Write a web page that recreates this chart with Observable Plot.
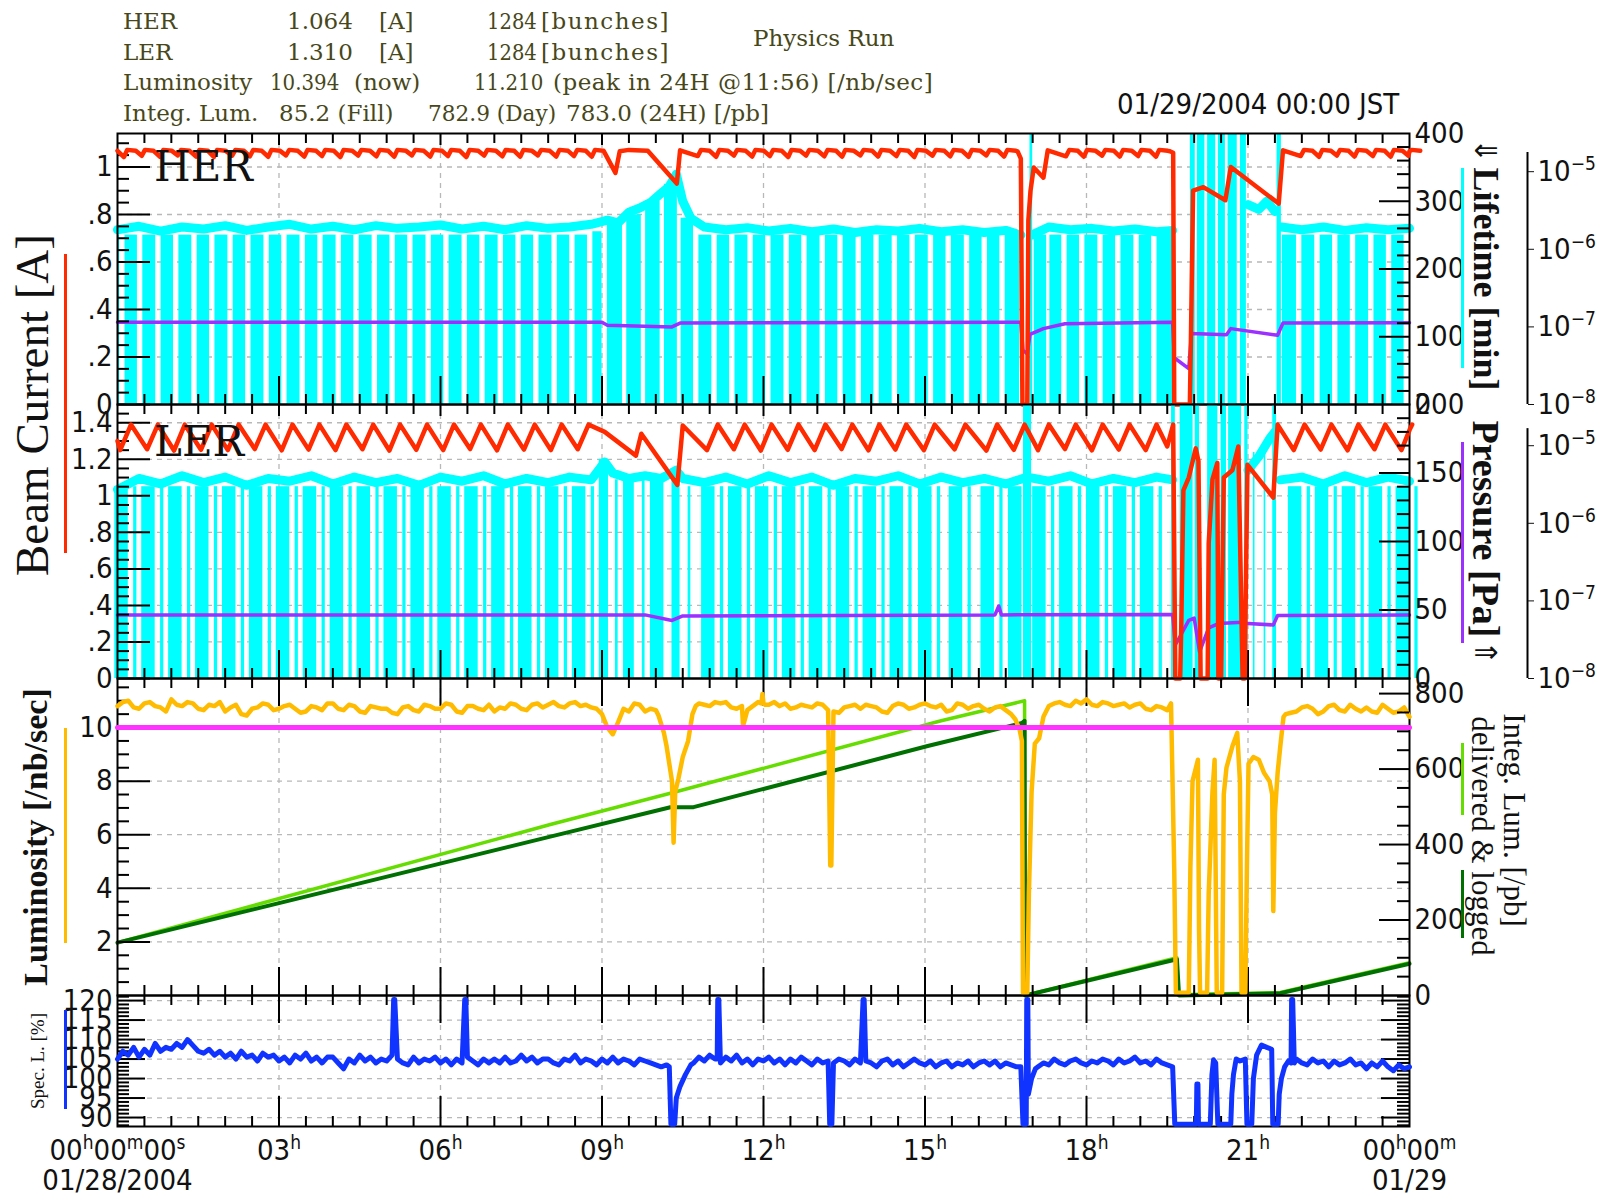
<!DOCTYPE html>
<html><head><meta charset="utf-8">
<script src="https://cdn.jsdelivr.net/npm/d3@7"></script>
<script src="https://cdn.jsdelivr.net/npm/@observablehq/plot@0.6"></script>
<style>
body{margin:0;background:#fff;}
#chart{position:relative;width:1607px;height:1196px;overflow:hidden;background:#fff;}
.tx{position:absolute;white-space:pre;line-height:1;transform-origin:0 50%;}
.hd{font-family:"DejaVu Serif",serif;font-size:23px;color:#47471a;}
.rot{position:absolute;white-space:pre;line-height:1;transform:translate(-50%,-50%) rotate(var(--r));}
.bar{position:absolute;width:3px;}
</style></head><body><div id="chart"></div>
<script>
// ---------------- DATA (hours since 01/28/2004 00:00) ----------------
// HER current sawtooth: injection times with the current just before injection [h, A]
const herTeethA=[[0.12,1.042],[0.45,1.047],[0.79,1.043],[1.12,1.049],[1.46,1.044],[1.79,1.042],[2.13,1.048],[2.46,1.045],[2.8,1.043],[3.13,1.049],[3.47,1.044],[3.8,1.046],[4.14,1.042],[4.47,1.048],[4.81,1.045],[5.14,1.043],[5.47,1.049],[5.81,1.044],[6.14,1.046],[6.48,1.042],[6.81,1.048],[7.15,1.045],[7.48,1.043],[7.81,1.049],[8.15,1.044],[8.48,1.046],[8.81,1.043]];
const herTeethB=[[10.78,1.046],[11.12,1.043],[11.45,1.048],[11.79,1.044],[12.12,1.046],[12.46,1.042],[12.79,1.048],[13.13,1.045],[13.46,1.043],[13.8,1.049],[14.13,1.044],[14.47,1.046],[14.8,1.042],[15.14,1.048],[15.47,1.045],[15.81,1.043],[16.14,1.049],[16.47,1.044]];
const herTeethC=[[17.62,1.045],[17.95,1.043],[18.29,1.048],[18.62,1.044],[18.96,1.046],[19.29,1.043]];
const herTeethD=[[21.98,1.046],[22.32,1.043],[22.65,1.048],[22.98,1.044],[23.32,1.046],[23.65,1.043],[23.98,1.047]];
const herTop=1.072, herHold=1.068;
const herSpecial=[[0,1.068],[9.02,1.068],[9.25,0.975],[9.33,1.066],[9.5,1.072],[9.85,1.068],[10.39,0.93],[10.45,1.07],
 [16.72,1.066],[16.78,1.035],[16.81,0],[16.9,0],[16.92,0.775],[16.96,0.9],[17.02,0.998],[17.2,0.955],[17.28,1.07],
 [19.55,1.066],[19.61,1.06],[19.63,0],[19.92,0],[19.94,0.28],[19.98,0.9],[20.17,0.915],[20.58,0.86],[20.68,1.0],[21.57,0.846],[21.65,1.07],[24,1.066]];
// LER current: trough times before injection [h, A]
const lerTeethA=[[0.05,1.25],[0.55,1.255],[1.05,1.248],[1.55,1.252],[2.05,1.25],[2.55,1.256],[3.05,1.249],[3.55,1.253],[4.05,1.25],[4.55,1.255],[5.05,1.248],[5.55,1.252],[6.05,1.25],[6.55,1.256],[7.05,1.249],[7.55,1.253],[8.05,1.25],[8.55,1.255]];
const lerTeethB=[[10.95,1.25],[11.45,1.255],[11.95,1.248],[12.45,1.252],[12.95,1.25],[13.45,1.256],[13.95,1.249],[14.45,1.253],[14.98,1.25],[15.55,1.255],[16.14,1.248],[16.65,1.252],[17.1,1.25],[17.6,1.256],[18.1,1.249],[18.6,1.253],[19.1,1.25]];
const lerTeethC=[[21.85,1.25],[22.35,1.253],[22.85,1.249],[23.35,1.255],[23.85,1.25]];
const lerPeak=1.39;
const lerSpecial=[[0,1.3],[9.05,1.35],[9.63,1.22],[9.73,1.34],[10.4,1.06],[10.5,1.385],
 [19.5,1.27],[19.61,1.39],[19.65,0],[19.74,0],[19.76,0.28],[19.8,1.03],[19.9,1.1],[20.03,1.26],[20.08,1.19],[20.12,0],[20.25,0],[20.27,0.74],[20.34,1.09],[20.43,1.18],[20.45,0],[20.5,0],[20.55,1.1],[20.71,1.14],[20.82,1.27],[20.9,0],[20.94,0],[20.96,0.5],[20.99,1.17],[21.47,0.99],[21.55,1.39],[24,1.36]];
// Lifetime [min] – upper envelope (NaN = gap) and extra columns [h0,h1,min]
const herLife=[[0,258],[0.4,263],[0.8,256],[1.2,262],[1.6,259],[2.0,264],[2.4,257],[2.8,262],[3.2,266],[3.6,259],[4.0,263],[4.4,258],[4.8,264],[5.2,260],[5.6,262],[6.0,265],[6.4,259],[6.8,263],[7.2,258],[7.6,264],[8.0,260],[8.4,262],[8.8,266],[9.1,272],[9.3,268],[9.5,284],[9.7,290],[9.9,298],[10.1,312],[10.25,322],[10.38,340],[10.5,300],[10.65,275],[10.9,262],[11.3,258],[11.7,261],[12.1,256],[12.5,260],[12.9,255],[13.3,259],[13.7,254],[14.1,258],[14.5,256],[14.9,260],[15.3,255],[15.7,258],[16.1,254],[16.5,257],[16.78,250],[16.79,NaN],[16.98,250],[17.3,262],[17.7,258],[18.1,260],[18.5,256],[18.9,259],[19.3,255],[19.6,257],[19.61,NaN],[21.0,295],[21.2,288],[21.35,300],[21.5,285],[21.51,NaN],[21.62,262],[22.0,258],[22.4,262],[22.8,257],[23.2,261],[23.6,258],[24,260]];
const herColsSpecial=[[0,0.04,250],[8.83,9.0,255],[9.1,9.38,265],[9.46,9.73,280],[9.81,10.08,300],[10.16,10.4,325],[10.47,10.7,275],
 [16.49,16.76,250],[16.95,17.0,400],[17.03,17.26,250],[17.32,17.54,250],[19.31,19.6,250],
 [19.93,20.02,400],[20.06,20.2,400],[20.25,20.4,400],[20.45,20.58,400],[20.63,20.8,400],[20.86,20.97,400],[21.54,21.62,400],[21.64,21.9,250]];
const lerLife=[[0,138],[0.4,146],[0.8,142],[1.2,148],[1.6,143],[2.0,147],[2.4,141],[2.8,146],[3.2,144],[3.6,148],[4.0,142],[4.4,147],[4.8,143],[5.2,146],[5.6,141],[6.0,147],[6.4,144],[6.8,148],[7.2,142],[7.6,146],[8.0,143],[8.4,147],[8.8,145],[9.05,158],[9.2,150],[9.5,146],[9.8,148],[10.1,146],[10.38,152],[10.5,146],[10.9,143],[11.3,147],[11.7,142],[12.1,148],[12.5,143],[12.9,147],[13.3,141],[13.7,146],[14.1,144],[14.5,148],[14.9,142],[15.3,147],[15.7,143],[16.1,146],[16.5,142],[16.9,147],[17.3,144],[17.7,148],[18.1,142],[18.5,146],[18.9,143],[19.3,147],[19.6,145],[19.61,NaN],[21.0,152],[21.2,162],[21.4,175],[21.5,180],[21.51,NaN],[21.6,145],[22.0,147],[22.4,142],[22.8,148],[23.2,143],[23.6,147],[24,144]];
const lerColsSpecial=[[8.95,9.12,160],[9.25,9.3,145],[9.4,9.6,145],[9.75,9.8,145],[9.9,10.15,145],[10.3,10.45,150],[10.6,10.65,140],
 [16.83,16.98,200],[19.58,19.65,200],[19.74,19.98,200],[20.02,20.1,200],[20.25,20.44,200],[20.5,20.6,200],[20.64,20.88,200],[20.94,21.0,200],[21.1,21.13,165],[21.3,21.33,172],[21.46,21.53,200]];
// Pressure [Pa]
const herPress=[[0,1.15e-7],[9.0,1.15e-7],[9.1,1.05e-7],[10.3,1.0e-7],[10.45,1.12e-7],[16.78,1.15e-7],[16.82,5e-8],[16.9,4.5e-8],[16.95,8e-8],[17.2,9.5e-8],[17.6,1.1e-7],[19.6,1.15e-7],[19.63,4e-8],[19.9,2.9e-8],[19.95,8.2e-8],[20.6,7.9e-8],[20.68,9.5e-8],[21.55,7.8e-8],[21.65,1.12e-7],[24,1.13e-7]];
const lerPress=[[0,6.6e-8],[9.8,6.6e-8],[10.3,5.6e-8],[10.5,6.4e-8],[16.3,6.6e-8],[16.37,8.6e-8],[16.42,6.6e-8],[19.6,6.7e-8],[19.65,2.7e-8],[19.9,5.6e-8],[20.0,6e-8],[20.1,2.2e-8],[20.27,4.5e-8],[20.45,5.1e-8],[20.9,5.3e-8],[21.0,5.1e-8],[21.47,4.9e-8],[21.55,6.5e-8],[24,6.6e-8]];
// Luminosity [/nb/sec]: 0.1 h samples in stable periods [start, values] + event points
const lumA=[0,[10.8,10.95,11.0,10.75,10.7,10.9,10.95,10.8,10.75,10.6,11.05,10.85,10.8,10.95,10.9,10.7,10.65,10.85,10.8,10.95,10.6,10.75,10.85,10.5,10.45,10.7,10.75,10.9,10.85,10.65,10.7,10.8,10.85,10.7,10.55,10.6,10.8,10.75,10.65,10.9,10.9,10.7,10.65,10.85,10.8,10.6,10.55,10.8,10.75,10.7,10.7,10.55,10.5,10.75,10.8,10.65,10.6,10.85,10.8,10.7,10.7,10.9,10.85,10.6,10.55,10.8,10.8,10.7,10.65,10.85,10.6,10.75,10.7,10.9,10.85,10.7,10.65,10.85,10.9,10.75,10.85,10.95,10.8,10.75,10.9,10.95,10.8,10.85,10.75,10.7]];
const lumB=[10.8,[10.9,10.85,10.8,10.95,10.9,10.95,10.75,10.7,10.8,10.65,10.8,10.95,10.9,10.85,10.95,10.8,10.9,10.7,10.75,10.85,10.8,10.75,10.9,10.85,10.65,10.6,10.55,10.75,10.8,10.85,10.7,10.85,10.8,10.75,10.6,10.55,10.8,10.9,10.85,10.7,10.75,10.85,10.9,10.8,10.75,10.85,10.6,10.65,10.9,10.85,10.7,10.8,10.85,10.7,10.6,10.75,10.8,10.65,10.5]];
const lumC=[17.3,[10.8,10.9,10.95,10.85,10.8,11.0,10.9,11.05,10.85,10.8,10.95,10.9,10.8,10.85,10.9,10.75,10.85,10.9,10.7,10.65,10.8,10.75,10.65]];
const lumD=[21.7,[10.5,10.55,10.6,10.75,10.8,10.7,10.5,10.6,10.8,10.85,10.65,10.6,10.85,10.7,10.6,10.75,10.6,10.55,10.85,10.7,10.55,10.6,10.75,10.4]];
const lumEvents=[[9.0,10.5],[9.1,10.0],[9.2,9.75],[9.3,10.2],[9.4,10.7],[9.5,10.6],[9.6,10.9],[9.7,10.85],[9.8,10.6],[9.9,10.7],[10.0,10.65],[10.05,10.45],[10.15,9.8],[10.2,9.3],[10.3,8.0],[10.33,5.7],[10.36,7.6],[10.42,8.1],[10.5,8.9],[10.6,9.5],[10.68,10.5],[10.74,10.8],
 [11.62,10.05],[11.96,10.9],[11.98,11.25],[12.03,10.85],[13.24,4.85],[13.26,4.85],
 [16.68,10.3],[16.76,9.9],[16.8,9.5],[16.82,0.1],[16.9,0.1],[16.93,3.8],[16.98,7.6],[17.04,9.4],[17.12,9.6],[17.2,10.4],
 [19.57,10.9],[19.63,4.7],[19.66,0.1],[19.9,0.1],[19.93,4.8],[19.97,8.0],[20.07,8.8],[20.09,2.5],[20.11,0.1],[20.24,0.1],[20.27,3.8],[20.34,7.6],[20.38,8.8],[20.42,0.1],[20.52,0.1],[20.55,7.5],[20.6,8.5],[20.71,9.3],[20.8,9.8],[20.85,8.0],[20.88,0.1],[20.95,0.1],[20.98,4.8],[21.01,8.65],[21.1,8.9],[21.2,8.8],[21.3,8.3],[21.4,8.0],[21.45,7.5],[21.47,3.15],[21.5,6.8],[21.55,8.3],[21.6,9.3],[21.66,10.4]];
const lumRef=[[0,10],[24,10]];
// Integrated luminosity [/pb]
const delivered=[[0,140],[8.04,453],[10.27,536],[15.3,728],[16.85,781],[16.86,0],[19.68,100],[19.7,2],[21.6,8],[24,87]];
const logged=[[0,140],[8.04,421],[10.27,499],[10.7,499],[15.05,661],[16.8,722],[16.85,728],[16.86,0],[19.68,96],[19.72,0],[21.6,6],[24,84]];
// Specific luminosity [%]: 0.1 h samples [start, values] + event points
const specA=[0,[105,107,106,108,105.5,107.5,106,109,107,108,107.5,109,108,110,108.5,107,106.5,107.5,106,107,105.5,106.5,105,107,105.5,106,104.5,106.5,105.5,106,104.5,105.5,104,106,105,106.5,104.5,105.5,104,105.5,105.5,104,102.5,105,104,106,104.5,105.5,104,105,104.5,106,105,104,103.5,105.5,104,105,104.5,105.5,104,105,103.5,105,104,105.5,104.5,103.5,105,104,105,104,105.5,104,104.5,106,104.5,105.5,104,105,105,104,103.5,105,104.5,106,104,105,104.5,103.5,105,104,105.5,104,105,104.5,103.5,105,104.5,104,103.5,103,103.5]];
const specB=[10.7,[104,105.5,104.5,106,105,104,105.5,104.5,106,104,105,103.5,105,104.5,105.5,104,105,103.5,105,104,105.5,104.5,103.5,105,104,104.5,104,105,104.5,103.5,105,104,104.5,104,103,104.5,105,103.5,104.5,103,104,105,104,103.5,104.5,103,104,104.5,103,104,103.5,104.5,103,104,104.5,103.5,104.5,103,104,103.5,103]];
const specC=[17.1,[103,104,103.5,105,104,103.5,104.5,105,104,103.5,104.5,104,105,104.5,103.5,105,104,104.5,105.5,104,104.5,103.5,105,104,103.5,103]];
const specD=[21.9,[105,104,103.5,105,104,104.5,103,104.5,103.5,104,105,103.5,104,102.5,104,103,104.5,103,102,103.5,102.5,103]];
const specEvents=[[5.13,120.3],[5.15,120.3],[6.45,120.3],[6.47,120.3],
 [10.25,103],[10.28,88.3],[10.35,88.3],[10.38,95],[10.45,98],[10.55,101],[10.65,103.5],
 [11.14,105],[11.15,120.3],[11.17,120.3],[13.23,88.3],[13.27,88.3],[13.85,120.3],[13.87,120.3],
 [16.78,103],[16.82,88.3],[16.88,88.3],[16.89,120.3],[16.91,120.3],[16.92,96],[16.98,100],[17.05,102.5],
 [19.64,88.3],[20.04,88.3],[20.05,98.6],[20.07,98.6],[20.08,88.3],[20.3,88.3],[20.33,101],[20.36,104.8],[20.4,104],[20.44,88.3],[20.68,88.3],[20.7,96],[20.73,101],[20.78,105],[20.85,104.5],[20.95,105],[20.98,88.3],[21.07,88.3],[21.1,100],[21.16,106],[21.25,108.6],[21.35,108],[21.44,107.5],[21.46,88.3],[21.56,88.3],[21.58,96],[21.62,100],[21.68,103],[21.75,104.5],[21.8,104],[21.81,120.3],[21.83,120.3],[21.86,104]];
// Axis tick labels ("^" toggles superscript)
const xLabels=[[0,"00^h^00^m^00^s"],[3,"03^h"],[6,"06^h"],[9,"09^h"],[12,"12^h"],[15,"15^h"],[18,"18^h"],[21,"21^h"],[24,"00^h^00^m"]];
const xDates=[[0,"01/28/2004"],[24,"01/29"]];
const herTicks=[0,0.2,0.4,0.6,0.8,1], lerTicks=[0,0.2,0.4,0.6,0.8,1,1.2,1.4];
const lumTicks=[2,4,6,8,10], specTicks=[90,95,100,105,110,115,120];
const herLifeTicks=[0,100,200,300,400], lerLifeTicks=[0,50,100,150,200], intTicks=[0,200,400,600,800];
const pressTicks=[1e-8,1e-7,1e-6,1e-5], pressLabels={"-8":"10^−8","-7":"10^−7","-6":"10^−6","-5":"10^−5"};

// ---------------- helpers ----------------
const chart=document.getElementById("chart");
const W=1607,X0=117,X1=1409,IW=X1-X0,PAD=80;
const FT='"Liberation Sans Narrow","Arial Narrow","DejaVu Sans Condensed","Liberation Sans",sans-serif';
const FS=29;
const C={red:"#ff2a00",cyan:"#00ffff",purple:"#9b30ff",orange:"#ffbb00",magenta:"#ff33ff",lgreen:"#66dd00",dgreen:"#007000",blue:"#1133ff",grid:"#b8b8b8"};
const SVGNS="http://www.w3.org/2000/svg";
// turn "a^b^c" texts into real text with superscript tspans
function supify(svg){svg.querySelectorAll("text").forEach(t=>{const s=t.textContent;if(!s.includes("^"))return;
  const parts=s.split("^");t.textContent="";let up=false;
  parts.forEach((p,i)=>{if(!p){up=!up;return;}const ts=document.createElementNS(SVGNS,"tspan");ts.textContent=p;
    if(i%2===1){ts.setAttribute("font-size","19");ts.setAttribute("dy","-11");}else if(i>0){ts.setAttribute("dy","11");}
    t.appendChild(ts);});});}
function layer(top,h,y,marks,padB){
  const pb=padB??PAD;
  const svg=Plot.plot({width:W,height:h+PAD+pb,marginLeft:X0,marginRight:W-X1,marginTop:PAD,marginBottom:pb,
    x:{domain:[0,24],axis:null},y,marks,
    style:{background:"transparent",overflow:"visible",fontFamily:FT,fontSize:FS+"px",color:"#111"}});
  svg.style.position="absolute";svg.style.left="0px";svg.style.top=(top-PAD)+"px";svg.style.background="transparent";
  supify(svg);chart.appendChild(svg);
}
const seq=(a,b,s)=>{const o=[];for(let i=0;a+i*s<=b+1e-9;i++)o.push(+(a+i*s).toFixed(4));return o;};
const isMul=(v,s)=>Math.abs(v/s-Math.round(v/s))<1e-6;
const minorX=seq(0.5,23.5,0.5).filter(v=>!isMul(v,3)), majorX=[3,6,9,12,15,18,21];
const TK={stroke:"#000",strokeWidth:2};
function xTicks(h,topMaj,botMaj){return[
  Plot.tickX(minorX,{x:d=>d,insetBottom:h-10,...TK}),Plot.tickX(minorX,{x:d=>d,insetTop:h-10,...TK}),
  Plot.tickX(majorX,{x:d=>d,insetBottom:h-topMaj,...TK}),Plot.tickX(majorX,{x:d=>d,insetTop:h-botMaj,...TK})];}
function yTicks(major,minor,side,lenMaj,lenMin){
  const k=side==="left"?"insetRight":"insetLeft";
  return[Plot.tickY(minor,{y:d=>d,[k]:IW-lenMin,...TK}),Plot.tickY(major,{y:d=>d,[k]:IW-lenMaj,...TK})];}
const minorOf=(a,b,s,maj)=>seq(a,b,s).filter(v=>!isMul(v,maj));
const grid=(ys)=>[Plot.ruleY(ys,{y:d=>d,stroke:C.grid,strokeWidth:1.3,strokeDasharray:"5,5"}),Plot.ruleX(majorX,{x:d=>d,stroke:C.grid,strokeWidth:1.3,strokeDasharray:"5,5"})];
const L=(data,stroke,w)=>Plot.line(data,{x:d=>d[0],y:d=>d[1],stroke,strokeWidth:w,strokeLinejoin:"round"});
const fmtDot=d=>d===0?"0":(Number.isInteger(d)?String(d):String(d).replace(/^0/,""));
const samples=([t0,vals])=>vals.map((v,i)=>[+(t0+i*0.1).toFixed(2),v]);
const byT=(a,b)=>a[0]-b[0];
function herSaw(teeth){return teeth.flatMap(([t,lo])=>[[t,lo],[t+0.06,herTop],[t+0.22,herHold]]);}
function lerSaw(teeth){return teeth.flatMap(([t,lo])=>[[t,lo],[t+0.2,lerPeak]]);}
function colsBetween(teeth,a,b,top){const o=[];for(let i=0;i<teeth.length-1;i++)o.push([teeth[i][0]+a,teeth[i+1][0]-b,top]);return o;}
const herCurrent=[...herSpecial,...herSaw([...herTeethA,...herTeethB,...herTeethC,...herTeethD])].sort(byT);
const lerCurrent=[...lerSpecial,...lerSaw([...lerTeethA,...lerTeethB,...lerTeethC])].sort(byT);
const herCols=[...herColsSpecial,...[herTeethA,herTeethB,herTeethC,herTeethD].flatMap(s=>colsBetween(s,0.02,0.08,250))];
const lerCols=[...lerColsSpecial,...[...lerTeethA,...lerTeethB,...lerTeethC].flatMap(([t])=>[[t-0.1,t+0.15,140],[t+0.25,t+0.31,140]])];
const lumLine=[...[lumA,lumB,lumC,lumD].flatMap(samples),...lumEvents].sort(byT);
const specLine=[...[specA,specB,specC,specD].flatMap(samples),...specEvents].sort(byT);
const rects=(cols)=>Plot.rect(cols,{x1:d=>d[0],x2:d=>d[1],y1:d=>0,y2:d=>d[2],fill:C.cyan});
const lifeBand=(data,w)=>Plot.line(data,{x:d=>d[0],y:d=>d[1],stroke:C.cyan,strokeWidth:w});
function logAxis(top){return[
  Plot.ruleX([24],{x:d=>d,dx:118,y1:d=>1e-8,y2:d=>top,stroke:"#000",strokeWidth:2}),
  Plot.axisY({anchor:"right",dx:118,ticks:pressTicks,tickFormat:d=>pressLabels[String(Math.round(Math.log10(d)))],tickSize:6,tickPadding:4,label:null,fontSize:FS})];}

// ---------------- HER panel ----------------
{const top=133,h=271;const yA={domain:[0,1.141]},yL={domain:[0,400]},yP={type:"log",domain:[1e-8,10**-4.508]};
 layer(top,h,{...yA,axis:null},grid(herTicks.slice(1)));
 layer(top,h,{...yL,axis:null},[rects(herCols),lifeBand(herLife,9)]);
 layer(top,h,yP,[L(herPress,C.purple,3.5),...logAxis(10**-4.753)]);
 layer(top,h,yA,[Plot.frame({stroke:"#000",strokeWidth:2}),...xTicks(h,12,28),
   ...yTicks(herTicks,minorOf(0.05,1.1,0.05,0.2),"left",33,12),
   L(herCurrent,C.red,4.5),
   Plot.axisY({anchor:"left",ticks:herTicks,tickFormat:fmtDot,tickSize:0,tickPadding:5,label:null,fontSize:FS})]);
 layer(top,h,yL,[...yTicks([100,200,300],minorOf(20,380,20,100),"right",30,12),
   Plot.axisY({anchor:"right",ticks:herLifeTicks,tickSize:0,tickPadding:5,label:null,fontSize:FS})]);
}
// ---------------- LER panel ----------------
{const top=404,h=274;const yA={domain:[0,1.5]},yL={domain:[0,200]},yP={type:"log",domain:[1e-8,10**-4.469]};
 layer(top,h,{...yA,axis:null},grid(lerTicks.slice(1)));
 layer(top,h,{...yL,axis:null},[rects(lerCols),lifeBand(lerLife,9)]);
 layer(top,h,yP,[L(lerPress,C.purple,3.5),...logAxis(10**-4.78)]);
 layer(top,h,yA,[Plot.frame({stroke:"#000",strokeWidth:2}),...xTicks(h,12,28),
   ...yTicks(lerTicks,minorOf(0.05,1.45,0.05,0.2),"left",33,12),
   L(lerCurrent,C.red,4.5),
   Plot.axisY({anchor:"left",ticks:lerTicks,tickFormat:fmtDot,tickSize:0,tickPadding:5,label:null,fontSize:FS})]);
 layer(top,h,yL,[...yTicks([50,100,150],minorOf(10,190,10,50),"right",30,12),
   Plot.axisY({anchor:"right",ticks:lerLifeTicks,tickSize:0,tickPadding:5,label:null,fontSize:FS})]);
}
// ---------------- Luminosity panel ----------------
{const top=678,h=317;const yA={domain:[0,11.83]},yR={domain:[0,840]};
 layer(top,h,{...yA,axis:null},grid([2,4,6,8]));
 layer(top,h,{...yR,axis:null},[L(delivered,C.lgreen,3.5),L(logged,C.dgreen,4)]);
 layer(top,h,yA,[Plot.frame({stroke:"#000",strokeWidth:2}),...xTicks(h,28,28),
   ...yTicks(lumTicks,minorOf(0.5,11.5,0.5,2),"left",33,12),
   L(lumLine,C.orange,4.5),L(lumRef,C.magenta,5),
   Plot.axisY({anchor:"left",ticks:lumTicks,tickFormat:d=>String(d),tickSize:0,tickPadding:5,label:null,fontSize:FS})]);
 layer(top,h,yR,[...yTicks([200,400,600,800],minorOf(50,800,50,200),"right",30,12),
   Plot.axisY({anchor:"right",ticks:intTicks,tickSize:0,tickPadding:5,label:null,fontSize:FS})]);
}
// ---------------- Spec. L. panel ----------------
{const top=995,h=131;const yS={domain:[87.7,121.3]};
 layer(top,h,{...yS,axis:null},grid(specTicks),66);
 layer(top,h,yS,[Plot.frame({stroke:"#000",strokeWidth:2}),...xTicks(h,28,30),
   ...yTicks(specTicks,minorOf(88,121,1,5),"left",28,12),...yTicks(specTicks,minorOf(88,121,1,5),"right",28,12),
   L(specLine,C.blue,5),
   Plot.axisY({anchor:"left",ticks:specTicks,tickSize:0,tickPadding:5,label:null,fontSize:FS})],66);
}
// x-axis tick labels below the bottom panel, drawn with the shared time scale
{const svg=Plot.plot({width:W,height:64,marginLeft:X0,marginRight:W-X1,marginTop:0,marginBottom:0,
   x:{domain:[0,24],axis:null},y:{domain:[0,1],axis:null},
   style:{background:"transparent",overflow:"visible",fontFamily:FT,fontSize:FS+"px",color:"#111"},
   marks:[Plot.text(xLabels,{x:d=>d[0],y:d=>0.66,text:d=>d[1],lineAnchor:"middle",fontSize:FS}),
          Plot.text(xDates,{x:d=>d[0],y:d=>0.18,text:d=>d[1],lineAnchor:"middle",fontSize:FS})]});
 svg.style.position="absolute";svg.style.left="0px";svg.style.top="1128px";svg.style.background="transparent";supify(svg);chart.appendChild(svg);}

// ---------------- texts & legend keys ----------------
function tx(s,left,cy,cls,css,sx,right){const d=document.createElement("div");d.className="tx "+(cls||"");d.textContent=s;
  Object.assign(d.style,css||{});chart.appendChild(d);const fs=parseFloat(getComputedStyle(d).fontSize);
  const w=d.getBoundingClientRect().width*(sx||1);
  d.style.left=(right?left-w:left)+"px";d.style.top=(cy-fs*0.5)+"px";if(sx)d.style.transform="scaleX("+sx+")";return d;}
function rot(s,cx,cy,deg,css){const d=document.createElement("div");d.className="rot";d.textContent=s;d.style.left=cx+"px";d.style.top=cy+"px";
  d.style.setProperty("--r",deg+"deg");Object.assign(d.style,css);chart.appendChild(d);}
function bar(x,y0,y1,color){const d=document.createElement("div");d.className="bar";d.style.left=(x-1.5)+"px";d.style.top=y0+"px";d.style.height=(y1-y0)+"px";d.style.background=color;chart.appendChild(d);}
// header: [text, x, centre y, horizontal scale, right-aligned]
const hdr=[["HER",123,21.5],["1.064",287,21.5],["[A]",379,21.5],["1284",537,21.5,0.85,1],["[bunches]",541,21.5],
 ["LER",123,52],["1.310",287,52],["[A]",379,52],["1284",537,52,0.85,1],["[bunches]",541,52],["Physics Run",753,38],
 ["Luminosity",123,82],["10.394",339,82,0.86,1],["(now)",354,82],["11.210",543,82,0.86,1],["(peak in 24H @11:56) [/nb/sec]",553,82],
 ["Integ. Lum.",123,113],["85.2 (Fill)",279,113],["782.9 (Day)",428,113,0.94],["783.0 (24H) [/pb]",566,113]];
hdr.forEach(([s,x,y,sx,r])=>tx(s,x,y,"hd",s==="[bunches]"?{letterSpacing:"1.5px"}:(s.startsWith("(peak")?{letterSpacing:"0.5px"}:{}),sx,r));
tx("01/29/2004 00:00 JST",1117,104,"",{fontFamily:FT,fontSize:FS+"px",color:"#111"});
tx("HER",154,167,"",{fontFamily:'"DejaVu Serif",serif',fontSize:"42px",color:"#111"});
tx("LER",154,442,"",{fontFamily:'"DejaVu Serif",serif',fontSize:"42px",color:"#111"});
const SER='"Liberation Serif","Times New Roman",serif';
rot("Beam Current [A]",32,405,-90,{fontFamily:SER,fontSize:"47px",color:"#111"});
rot("Luminosity [/nb/sec]",36,837,-90,{fontFamily:SER,fontSize:"34px",fontWeight:"bold",color:"#111"});
rot("Spec. L. [%]",37,1061,-90,{fontFamily:SER,fontSize:"19px",color:"#111"});
rot("Lifetime [min]",1486,279,90,{fontFamily:SER,fontSize:"36px",fontWeight:"bold",color:"#111"});
rot("Pressure [Pa]",1486,529,90,{fontFamily:SER,fontSize:"38px",fontWeight:"bold",color:"#111"});
rot("Integ. Lum. [/pb]",1514,820,90,{fontFamily:SER,fontSize:"31px",color:"#111"});
rot("delivered & logged",1482,836,90,{fontFamily:SER,fontSize:"31px",color:"#111"});
rot("⇐",1486,150,0,{fontFamily:'"DejaVu Sans",sans-serif',fontSize:"30px",color:"#111"});
rot("⇒",1486,652,0,{fontFamily:'"DejaVu Sans",sans-serif',fontSize:"30px",color:"#111"});
bar(65,254,553,C.red);bar(65,728,943,C.orange);bar(65,1010,1109,C.blue);
bar(1462,168,368,C.cyan);bar(1462,442,643,C.purple);bar(1462,743,815,C.lgreen);bar(1462,870,938,C.dgreen);
</script></body></html>
